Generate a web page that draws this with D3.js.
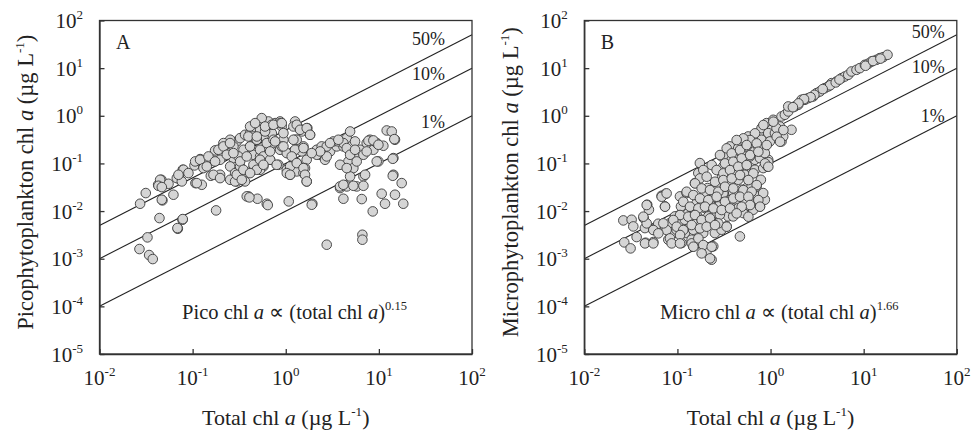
<!DOCTYPE html>
<html>
<head>
<meta charset="utf-8">
<script src="https://cdn.jsdelivr.net/npm/d3@7"></script>
<style>
body { margin: 0; background: #fff; }
text { font-family: "Liberation Serif", "Times New Roman", serif; fill: #222; }
.axis path, .axis line { stroke: #333; stroke-width: 1.3; }
</style>
</head>
<body>
<script>
// decade exponents used for the tick labels (both axes are log10)
var xTickExp = [-2, -1, 0, 1, 2];
var yTickExp = [-5, -4, -3, -2, -1, 0, 1, 2];

// reference lines: size-class chl a as a fraction of total chl a
var ratios = [0.5, 0.1, 0.01];
var ratioLabels = ["50%", "10%", "1%"];

// points, stored as [log10 total chl a, log10 class chl a]
var picoPoints = [
  [-1.564,-1.846],[-1.503,-1.622],[-1.571,-2.797],[-1.485,-2.552],[-1.467,-2.923],
  [-1.428,-3.007],[-1.370,-1.448],[-1.335,-1.343],[-1.324,-1.776],[-1.356,-2.147],
  [-1.259,-1.427],[-1.206,-1.657],[-1.159,-2.371],[-1.109,-2.182],[-1.152,-1.273],
  [-1.106,-1.133],[-1.134,-1.343],[-0.970,-1.413],[-0.902,-1.448],[-0.748,-1.986],
  [-0.980,-1.042],[-0.884,-1.063],[-0.919,-0.909],[-0.848,-0.958],[-0.776,-0.853],
  [-0.705,-0.923],[-0.805,-1.259],[-0.705,-1.238],[-0.759,-0.727],[-0.687,-0.678],
  [-0.633,-0.643],[-0.597,-0.783],[-0.562,-0.888],[-0.597,-1.063],[-0.544,-1.203],
  [-0.462,-1.238],[-0.437,-1.378],[-0.401,-1.692],[-0.304,-1.741],[-0.204,-1.846],
  [0.032,-1.797],[0.286,-1.846],
  [-0.526,-0.538],[-0.490,-0.469],[-0.437,-0.399],[-0.383,-0.364],[-0.329,-0.329],
  [-0.275,-0.294],[-0.222,-0.224],[-0.168,-0.189],[-0.114,-0.154],[-0.061,-0.119],
  [-0.043,-0.224],[-0.150,-0.364],[-0.240,-0.434],[-0.311,-0.503],[-0.383,-0.643],
  [-0.454,-0.713],[-0.508,-0.853],[-0.597,-0.503],[-0.669,-0.573],[-0.562,-0.643],
  [-0.347,-0.818],[-0.275,-0.853],[-0.204,-0.643],[-0.132,-0.573],[-0.061,-0.713],
  [-0.025,-0.503],[-0.079,-1.028],[-0.168,-0.923],[-0.240,-1.063],[-0.311,-0.993],
  [-0.383,-1.168],[-0.490,-1.063],[-0.597,-1.343],[-0.526,-1.378],[-0.383,-0.224],
  [-0.347,-0.434],[-0.186,-0.119],[-0.258,-0.049],[-0.329,-0.154],
  [0.011,-1.133],[0.046,-1.238],[0.100,-0.119],[0.136,-0.245],[0.100,-0.503],
  [0.082,-0.748],[0.118,-0.993],[0.118,-1.168],[0.172,-0.748],[0.190,-0.643],
  [0.225,-0.923],[0.207,-1.098],[0.190,-1.203],[0.225,-1.378],[0.172,-0.329],
  [0.232,-0.259],[0.261,-0.399],[0.368,-0.818],[0.333,-0.713],[0.386,-0.643],
  [0.422,-0.923],[0.476,-0.748],[0.547,-0.643],[0.512,-0.538],[0.655,-0.469],
  [0.619,-0.643],[0.691,-0.748],[0.673,-0.958],[0.726,-1.098],[0.691,-1.273],
  [0.583,-1.517],[0.619,-1.741],[0.655,-1.483],[0.691,-0.329],[0.744,-0.538],
  [0.744,-0.818],[0.798,-0.713],[0.762,-1.483],[0.834,-1.273],[0.816,-1.748],
  [0.823,-2.497],[0.823,-2.601],[0.440,-2.706],[0.869,-0.573],[0.905,-0.503],
  [0.941,-0.713],[0.977,-0.573],[0.995,-0.958],[0.934,-2.007],[1.030,-1.636],
  [1.066,-1.846],[1.048,-0.629],[1.084,-0.308],[1.138,-0.329],[1.156,-0.888],
  [1.156,-1.238],[1.173,-0.503],[1.173,-1.657],[1.245,-1.413],[1.262,-1.846],
  [-1.349,-1.343],[-1.367,-1.469],[-1.331,-1.497],[-1.331,-1.762],[-1.170,-1.308],
  [-1.098,-1.133],[-1.116,-1.378],[-1.152,-1.238],[-1.045,-1.203],[-0.973,-0.958],
  [-0.955,-1.413],[-0.920,-0.923],[-0.884,-1.098],[-0.830,-0.853],[-0.848,-1.063],
  [-0.776,-1.238],[-0.759,-0.958],[-0.705,-1.308],[-0.723,-0.713],[-0.669,-0.643],
  [-0.633,-0.818],[-0.598,-0.573],[-0.562,-0.783],[-0.544,-1.378],[-0.526,-1.238],
  [-0.490,-0.958],[-0.472,-1.343],[-0.455,-1.133],[-0.419,-0.853],[-0.401,-0.434],
  [-0.383,-0.643],[-0.347,-1.028],[-0.311,-0.503],[-0.276,-0.713],[-0.276,-1.133],
  [-0.240,-0.853],[-0.222,-0.329],[-0.204,-0.573],[-0.168,-0.923],[-0.150,-0.189],
  [-0.132,-0.503],[-0.097,-1.028],[-0.061,-0.154],[-0.043,-0.643],[-0.025,-0.364],
  [0.011,-0.783],[0.029,-1.203],[0.047,-1.063],[0.082,-0.224],[0.100,-0.713],
  [0.118,-0.503],[0.064,-0.853],
  [-1.106,-2.168],[-1.163,-2.357],[-0.419,-1.692],[-0.390,-1.713],[-0.193,-1.874],
  [1.166,-0.490],[0.888,-0.524],[0.941,-0.517],[0.995,-0.608],[0.977,-0.958],
  [1.149,-0.902],[0.565,-0.538],[0.619,-0.573],[0.655,-0.678],[0.691,-0.818],
  [0.744,-0.713],[0.762,-0.958],[0.834,-0.818],[0.869,-0.748],[0.583,-1.028],
  [0.655,-1.098],[0.852,-1.238],[1.149,-1.259],[0.583,-1.483],[0.619,-1.448],
  [0.726,-1.469],[0.834,-1.469],[0.279,-1.867],
  [-0.311,-0.434],[-0.222,-0.224],[-0.132,-0.189],[-0.043,-0.154],[0.118,-0.189],
  [0.154,-0.294],[0.225,-0.259],[0.261,-0.399],[-0.114,-0.538],[-0.025,-0.643],
  [0.082,-0.503],[0.190,-0.678],[0.333,-0.818],[0.440,-0.643],[0.440,-0.853],
  [0.369,-0.748],[0.279,-0.783],[0.118,-0.993],[0.190,-1.098],[0.207,-1.238],
  [0.225,-1.378],[0.011,-1.203],[0.047,-1.238],[-0.168,-0.748],[-0.276,-0.923],
  [-0.311,-1.133],[-0.383,-1.203],[-0.240,-1.028],[0.476,-0.573],[0.565,-0.503]
];

var microPoints = [
  [-1.581,-2.196],[-1.571,-2.657],[-1.503,-2.783],[-1.492,-2.182],[-1.474,-2.322],
  [-1.438,-2.545],[-1.363,-2.147],[-1.349,-2.357],[-1.324,-1.867],[-1.306,-1.972],
  [-1.342,-2.664],[-1.259,-2.650],[-1.259,-2.392],[-1.206,-2.266],[-1.170,-1.678],
  [-1.127,-1.636],[-1.134,-1.902],[-1.134,-2.322],[-1.098,-2.601],[-1.080,-2.252],
  [-1.063,-2.497],[-1.027,-2.112],[-0.991,-2.252],[-1.009,-2.392],[-0.973,-1.692],
  [-0.962,-1.902],[-0.955,-2.671],[-0.920,-2.462],[-0.902,-1.622],[-0.884,-2.042],
  [-0.866,-2.322],[-0.848,-2.601],[-0.830,-2.741],[-0.812,-1.413],[-0.794,-1.832],
  [-0.776,-1.203],[-0.759,-0.993],[-0.741,-2.182],[-0.723,-2.462],[-0.705,-2.741],
  [-0.705,-1.937],[-0.676,-1.517],[-0.687,-2.846],[-0.651,-1.797],[-0.633,-3.021],
  [-0.615,-2.741],[-0.598,-2.462],[-0.590,-2.042],[-0.562,-1.902],[-0.562,-1.517],
  [-0.526,-0.853],[-0.519,-1.273],[-0.490,-1.762],[-0.473,-2.322],[-0.455,-2.112],
  [-0.437,-0.643],[-0.419,-1.133],[-0.401,-1.622],[-0.383,-1.902],[-0.365,-0.853],
  [-0.347,-1.343],[-0.329,-2.532],[-0.311,-0.573],[-0.293,-1.762],[-0.276,-0.993],
  [-0.258,-1.517],[-0.240,-0.434],[-0.222,-1.902],[-0.204,-0.713],[-0.204,-1.203],
  [-0.186,-1.762],[-0.168,-0.923],[-0.150,-1.483],[-0.132,-1.832],[-0.125,-0.364],
  [-0.097,-0.259],[-0.061,-0.643],[-0.043,-1.063],[-0.025,-0.923],[-0.043,-0.154],
  [0.011,-0.294],[0.029,-0.084],[0.100,-0.224],[0.118,-0.014],[0.154,0.021],
  [0.190,0.091],[0.225,-0.294],[0.118,-0.538],[0.136,-0.434],[0.190,0.196],
  [0.261,0.196],[0.297,0.231],[0.333,0.336],[0.369,0.336],[0.404,0.371],
  [0.458,0.406],[0.494,0.476],[0.530,0.510],[0.583,0.580],[0.619,0.615],
  [0.655,0.685],[0.709,0.720],[0.762,0.790],[0.798,0.825],[0.834,0.860],
  [0.869,0.930],[0.923,0.965],[0.959,1.000],[1.013,1.070],[1.048,1.091],
  [1.084,1.140],[1.138,1.175],[1.173,1.210],[1.209,1.231],[1.256,1.280],
  [0.640,0.640],[0.700,0.700],[0.740,0.760],[1.020,1.050],[1.100,1.150],
  [1.180,1.200],[0.560,0.560],[0.470,0.440],[0.430,0.390],[0.360,0.350],
  [0.300,0.260],[0.240,0.180],
  [-0.920,-2.182],[-0.866,-2.112],[-0.830,-2.392],[-0.794,-2.077],[-0.759,-2.322],
  [-0.741,-1.762],[-0.705,-1.622],[-0.669,-2.112],[-0.633,-1.902],[-0.598,-1.692],
  [-0.580,-2.252],[-0.544,-2.077],[-0.526,-2.392],[-0.508,-1.622],[-0.490,-1.483],
  [-0.472,-1.902],[-0.437,-1.378],[-0.426,-1.762],[-0.401,-2.112],[-0.390,-1.238],
  [-0.365,-1.762],[-0.347,-1.937],[-0.329,-1.063],[-0.311,-1.552],[-0.293,-2.042],
  [-0.276,-1.238],[-0.240,-1.622],[-0.222,-0.853],[-0.204,-1.483],[-0.186,-1.972],
  [-0.168,-1.133],[-0.140,-1.692],[-0.114,-0.888],[-0.104,-1.343],[-0.097,-0.748],
  [-0.079,-1.098],[-0.061,-1.762],[-0.114,-1.902],[-0.079,-1.622],[-0.508,-1.063],
  [-0.472,-0.853],[-0.419,-0.923],[-0.347,-0.678],[-0.311,-0.783],[-0.258,-0.643],
  [-0.222,-0.573],[-0.168,-0.503],[-0.132,-0.643],[-0.097,-0.503],[-0.061,-0.783],
  [-0.025,-0.364],[-0.007,-0.538],[0.047,-0.364],[0.064,-0.259],[-0.032,-1.063],
  [-0.025,-0.972],
  [-0.077,-0.194],[0.030,-0.124],[0.138,-0.299],[0.066,-0.439],[-0.167,-0.369],
  [-0.220,-0.509],[-0.292,-0.474],[-0.364,-0.509],[-0.471,-0.684],[-0.417,-0.789],
  [-0.328,-0.719],[-0.256,-0.614],[-0.149,-0.579],[-0.041,-0.614],[0.102,-0.544],
  [-0.543,-0.824],[-0.489,-0.999],[-0.400,-0.964],[-0.310,-0.894],[-0.220,-0.824],
  [-0.131,-0.754],[-0.059,-0.999],[-0.024,-1.069],[-0.632,-1.034],[-0.579,-1.139],
  [-0.507,-1.209],[-0.435,-1.139],[-0.346,-1.069],[-0.256,-1.034],[-0.185,-1.209],
  [-0.722,-1.139],[-0.758,-1.314],[-0.686,-1.279],[-0.596,-1.384],[-0.507,-1.349],
  [-0.417,-1.314],[-0.328,-1.244],[-0.238,-1.349],[-0.149,-1.454],[-0.811,-1.419],
  [-0.740,-1.524],[-0.650,-1.559],[-0.561,-1.594],[-0.489,-1.489],[-0.400,-1.524],
  [-0.292,-1.559],[-0.203,-1.594],[-0.901,-1.594],[-0.829,-1.664],[-0.758,-1.734],
  [-0.668,-1.769],[-0.579,-1.699],[-0.489,-1.803],[-0.400,-1.734],[-0.328,-1.699],
  [-0.238,-1.699],[-0.131,-1.769],[-0.113,-1.908],[-0.220,-1.873],[-0.310,-1.908],
  [-0.937,-1.803],[-0.865,-1.908],[-0.775,-1.943],[-0.704,-1.908],[-0.614,-1.943],
  [-0.525,-1.978],[-0.435,-1.943],[-0.364,-2.048],[-0.238,-2.118],[-0.972,-2.083],
  [-0.883,-2.118],[-0.811,-2.083],[-0.740,-2.188],[-0.650,-2.153],[-0.561,-2.258],
  [-0.471,-2.328],[-1.044,-2.188],[-1.008,-2.328],[-0.937,-2.398],[-0.847,-2.293],
  [-0.758,-2.363],[-0.686,-2.328],[-0.596,-2.293],[-1.116,-2.398],[-1.080,-2.573],
  [-0.972,-2.503],[-0.847,-2.678],[-0.775,-2.573],[-0.829,-2.748],[-0.722,-2.713],
  [-0.632,-2.748],[-0.740,-2.888],[-0.650,-2.993],[-1.259,-2.398],[-1.330,-2.258],
  [-1.366,-2.118],[-1.330,-1.873],[-1.169,-1.699],[-1.116,-1.629],[-1.133,-1.908],
  [-1.348,-2.678],[-1.259,-2.678],[-1.062,-2.678],[-0.972,-2.678],[-1.205,-2.468],
  [-1.151,-2.258]
];

var panels = [
  { letter: "A", left: 99.5, points: picoPoints, yName: "Picophytoplankton",
    formula: "Pico", slope: "0.15", pctEnd: 345.5, pctBase: [24.5, 59.5, 107.5] },
  { letter: "B", left: 584.3, points: microPoints, yName: "Microphytoplankton",
    formula: "Micro", slope: "1.66", pctEnd: 360.5, pctBase: [17.5, 52.5, 101.5] }
];

var marginTop = 20.5, width = 372.5, height = 333.5;

var svg = d3.select("body").append("svg")
    .attr("width", 973)
    .attr("height", 435);

var x = d3.scaleLog().domain([0.01, 100]).range([0, width]);
var y = d3.scaleLog().domain([1e-5, 100]).range([height, 0]);

panels.forEach(function(p) {
    var g = svg.append("g")
        .attr("transform", "translate(" + p.left + "," + marginTop + ")");

    // reference lines (drawn under the points)
    ratios.forEach(function(r, i) {
        g.append("line")
            .attr("x1", x(0.01)).attr("y1", y(0.01 * r))
            .attr("x2", x(100)).attr("y2", y(100 * r))
            .style("stroke", "#222")
            .style("stroke-width", 1.1);
        g.append("text")
            .attr("x", p.pctEnd)
            .attr("y", p.pctBase[i])
            .attr("text-anchor", "end")
            .style("font-size", "18px")
            .text(ratioLabels[i]);
    });

    g.append("g").selectAll("circle")
        .data(p.points)
        .enter()
        .append("circle")
        .attr("cx", function(d) { return x(Math.pow(10, d[0])); })
        .attr("cy", function(d) { return y(Math.pow(10, d[1])); })
        .attr("r", 4.8)
        .style("fill", "#d5d5d5")
        .style("stroke", "#3a3a3a")
        .style("stroke-width", 0.9);

    // axes with inward ticks, labels are added by hand for superscripts
    g.append("g").attr("class", "axis")
        .attr("transform", "translate(0," + height + ")")
        .call(d3.axisBottom(x)
            .tickValues(xTickExp.map(function(e) { return Math.pow(10, e); }))
            .tickSizeInner(-5).tickSizeOuter(0).tickFormat(""));
    g.append("g").attr("class", "axis")
        .call(d3.axisLeft(y)
            .tickValues(yTickExp.map(function(e) { return Math.pow(10, e); }))
            .tickSizeInner(-5).tickSizeOuter(0).tickFormat(""));
    g.append("rect")
        .attr("width", width).attr("height", height)
        .style("fill", "none").style("stroke", "#333").style("stroke-width", 1.3);

    var xl = g.selectAll(".xlab").data(xTickExp).enter().append("text")
        .attr("class", "xlab")
        .attr("x", function(e) { return x(Math.pow(10, e)); })
        .attr("y", height + 31)
        .attr("text-anchor", "middle")
        .style("font-size", "21px");
    xl.append("tspan").text("10");
    xl.append("tspan").attr("dy", -9).style("font-size", "13px")
        .text(function(e) { return e; });

    var yl = g.selectAll(".ylab").data(yTickExp).enter().append("text")
        .attr("class", "ylab")
        .attr("x", -16.5)
        .attr("y", function(e) { return y(Math.pow(10, e)) + 7.5; })
        .attr("text-anchor", "end")
        .style("font-size", "21px");
    yl.append("tspan").text("10");
    yl.append("tspan").attr("dy", -9).style("font-size", "13px")
        .text(function(e) { return e; });

    g.append("text")
        .attr("x", 16.5).attr("y", 28.5)
        .style("font-size", "20px")
        .text(p.letter);

    // power-law note
    var f = g.append("text")
        .attr("x", 195).attr("y", 298)
        .attr("text-anchor", "middle")
        .style("font-size", "20.5px");
    f.append("tspan").text(p.formula + " chl ");
    f.append("tspan").style("font-style", "italic").text("a");
    f.append("tspan").text(" \u221D (total chl ");
    f.append("tspan").style("font-style", "italic").text("a");
    f.append("tspan").text(")");
    f.append("tspan").attr("dy", -9).style("font-size", "12.5px").text(p.slope);

    // axis titles
    var xt = g.append("text")
        .attr("x", width / 2).attr("y", 404.5)
        .attr("text-anchor", "middle")
        .style("font-size", "22px");
    xt.append("tspan").text("Total chl ");
    xt.append("tspan").style("font-style", "italic").text("a");
    xt.append("tspan").text(" (\u00B5g L");
    xt.append("tspan").attr("dy", -9).style("font-size", "13px").text("-1");
    xt.append("tspan").attr("dy", 9).text(")");

    var yt = g.append("text")
        .attr("transform", "translate(-66.5," + (height / 2 - 5) + ") rotate(-90)")
        .attr("text-anchor", "middle")
        .style("font-size", "22.5px");
    yt.append("tspan").text(p.yName + " chl ");
    yt.append("tspan").style("font-style", "italic").text("a");
    yt.append("tspan").text(" (\u00B5g L");
    yt.append("tspan").attr("dy", -9).style("font-size", "13px").text("-1");
    yt.append("tspan").attr("dy", 9).text(")");
});
</script>
</body>
</html>
